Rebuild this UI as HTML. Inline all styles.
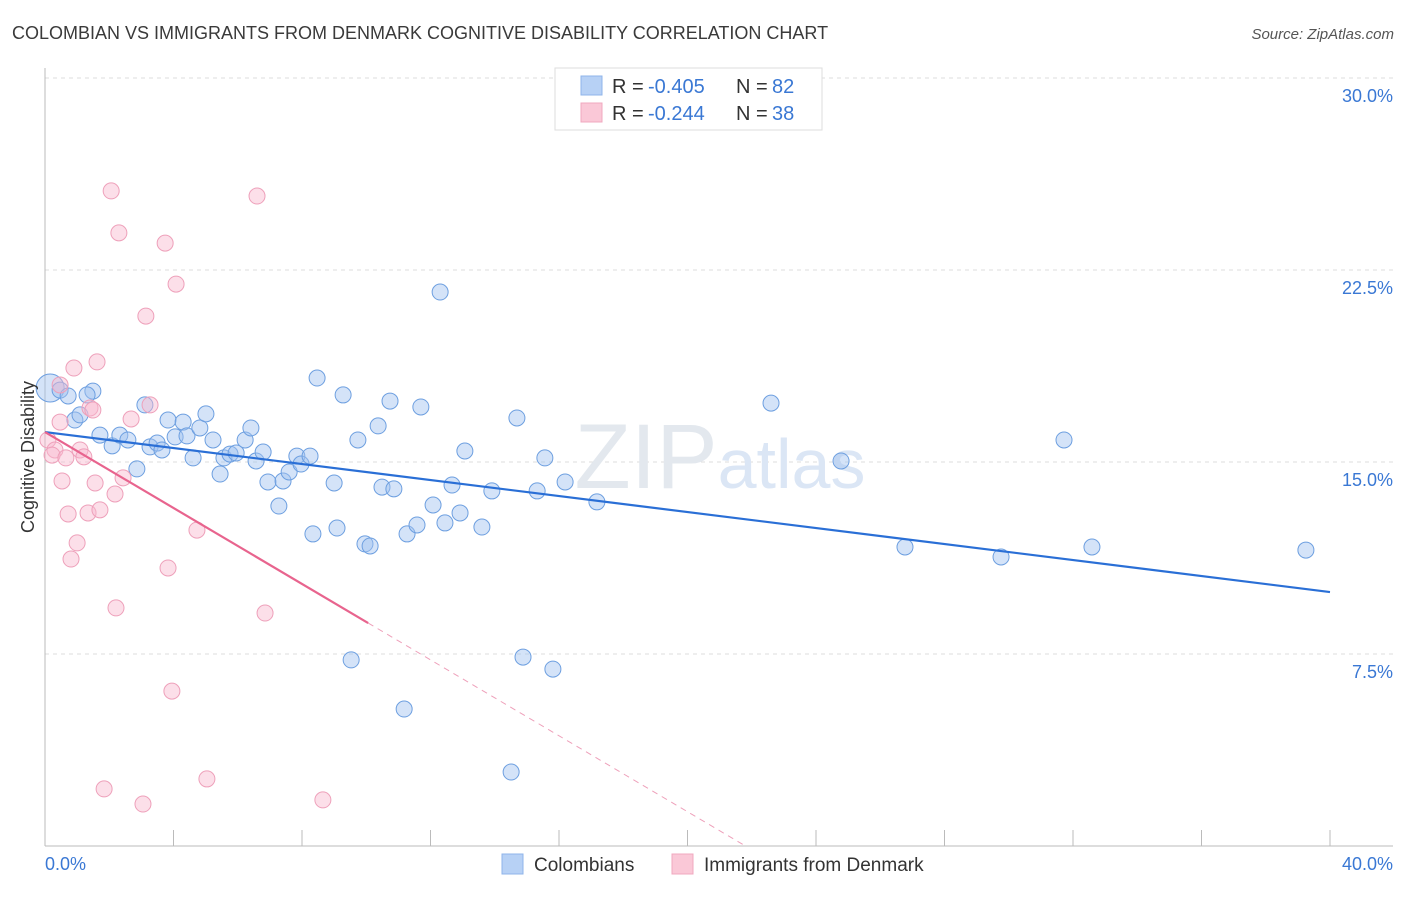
<!DOCTYPE html>
<html><head><meta charset="utf-8"><style>
body{margin:0;background:#fff;font-family:"Liberation Sans",sans-serif}
svg text{font-family:"Liberation Sans",sans-serif}
</style></head><body>
<svg id="chart" width="1406" height="892" xmlns="http://www.w3.org/2000/svg">
<text x="12" y="39" font-size="18" fill="#3a3a3a">COLOMBIAN VS IMMIGRANTS FROM DENMARK COGNITIVE DISABILITY CORRELATION CHART</text>
<text x="1394" y="39" font-size="15" fill="#555" text-anchor="end" font-style="italic">Source: ZipAtlas.com</text>
<g id="grid"></g>
<text x="720" y="488" font-size="92" fill="#e3e8ee" text-anchor="middle" font-family="Liberation Serif">ZIP<tspan fill="#dbe6f5" font-family="Liberation Sans" font-size="70">atlas</tspan></text>
<g id="marks"></g>
<text transform="translate(34,457) rotate(-90)" font-size="18" fill="#333" text-anchor="middle">Cognitive Disability</text>
<g>
<rect x="555" y="68" width="267" height="62" fill="#fff" stroke="#ddd"/>
<rect x="581" y="76" width="21" height="19" fill="#b7d1f5" stroke="#8fb4ea"/>
<rect x="581" y="103" width="21" height="19" fill="#fac8d7" stroke="#f0a8bf"/>
<text x="612" y="93" font-size="20" fill="#333">R =</text>
<text x="648" y="93" font-size="20" fill="#3a78d4">-0.405</text>
<text x="736" y="93" font-size="20" fill="#333">N =</text>
<text x="772" y="93" font-size="20" fill="#3a78d4">82</text>
<text x="612" y="120" font-size="20" fill="#333">R =</text>
<text x="648" y="120" font-size="20" fill="#3a78d4">-0.244</text>
<text x="736" y="120" font-size="20" fill="#333">N =</text>
<text x="772" y="120" font-size="20" fill="#3a78d4">38</text>
</g>
<g>
<rect x="502" y="854" width="21" height="20" fill="#b7d1f5" stroke="#8fb4ea"/>
<text x="534" y="871" font-size="19" fill="#333">Colombians</text>
<rect x="672" y="854" width="21" height="20" fill="#fac8d7" stroke="#f0a8bf"/>
<text x="704" y="871" font-size="19" fill="#333">Immigrants from Denmark</text>
</g>
</svg>
<script>
const yTicks=[7.5,15,22.5,30];
const yTickLabels=["7.5%","15.0%","22.5%","30.0%"];
const xTicks=[0,4,8,12,16,20,24,28,32,36,40];
const blueX=[0.16,0.47,0.72,1.49,1.31,0.93,1.09,1.71,2.09,2.33,2.58,2.86,3.11,3.27,3.49,3.64,3.83,4.05,4.30,4.42,4.61,4.82,5.01,5.23,5.45,5.57,5.76,5.95,6.23,6.41,6.57,6.79,6.94,7.28,7.41,7.60,7.84,7.97,8.25,8.34,8.47,9.00,9.09,9.28,9.53,9.74,9.96,10.12,10.37,10.49,10.74,10.86,11.18,11.27,11.58,11.70,12.08,12.30,12.45,12.67,12.92,13.07,13.60,13.91,14.51,14.69,14.88,15.32,15.56,15.81,16.19,17.18,22.60,24.78,26.77,29.76,31.72,32.59,39.25];
const blueY=[17.89,17.81,17.58,17.77,17.62,16.64,16.84,16.05,15.63,16.05,15.86,14.73,17.23,15.59,15.74,15.47,16.64,15.98,16.56,16.02,15.16,16.33,16.88,15.86,14.53,15.16,15.31,15.35,15.86,16.33,15.04,15.39,14.22,13.28,14.26,14.61,15.23,14.92,15.23,12.19,18.28,14.18,12.42,17.62,7.27,15.86,11.80,11.72,16.41,14.02,17.38,13.95,5.35,12.19,12.54,17.15,13.32,21.64,12.62,14.10,13.01,15.43,12.46,13.87,2.89,16.72,7.38,13.87,15.16,6.91,14.22,13.44,17.30,15.04,11.68,11.29,15.86,11.68,11.56];
const pinkX=[0.09,0.31,0.47,0.53,0.72,0.81,0.90,1.00,1.09,1.21,1.34,1.40,1.49,1.56,1.62,1.71,2.06,2.18,2.21,2.30,2.43,2.68,3.05,3.27,3.14,3.74,3.83,3.95,4.08,4.73,5.04,1.84,6.60,6.85,8.65,0.47,0.22,0.65];
const pinkY=[15.86,15.47,16.56,14.26,12.97,11.21,18.67,11.84,15.47,15.20,13.01,17.11,17.03,14.18,18.91,13.13,25.59,13.75,9.30,23.95,14.38,16.68,1.64,17.23,20.70,23.55,10.86,6.05,21.95,12.34,2.62,2.23,25.39,9.10,1.80,18.01,15.27,15.16];
const blueTrend=[16.17,9.92];
const pinkTrend=[16.17,8.71];
const pinkSolidEnd=10.06;
const NS="http://www.w3.org/2000/svg";
const sx=v=>45+v*32.125, sy=v=>846-v*25.6;
function mk(t,a,p){const e=document.createElementNS(NS,t);for(const k in a)e.setAttribute(k,a[k]);p.appendChild(e);return e;}
const grid=document.getElementById('grid'), marks=document.getElementById('marks');
yTicks.forEach((t,i)=>{
 const l=mk('line',{x1:45,x2:1393,y1:sy(t),y2:sy(t),stroke:'#ddd','stroke-dasharray':'4,4'},grid);
 
 
 const tx=mk('text',{x:1393,y:sy(t)+24,'font-size':18,fill:'#3a78d4','text-anchor':'end'},grid);
 tx.textContent=yTickLabels[i];
 
 
});
mk('line',{x1:45,x2:45,y1:68,y2:846,stroke:'#bbb'},grid);
mk('line',{x1:45,x2:1393,y1:846,y2:846,stroke:'#bbb'},grid);
xTicks.forEach(t=>{const l=mk('line',{x1:sx(t),x2:sx(t),y1:830,y2:846,stroke:'#bbb'},grid);
 
 });
const x0=mk('text',{x:45,y:870,'font-size':18,fill:'#3a78d4'},grid);x0.textContent='0.0%';


const x1=mk('text',{x:1393,y:870,'font-size':18,fill:'#3a78d4','text-anchor':'end'},grid);x1.textContent='40.0%';


blueX.forEach((x,i)=>{const c=mk('circle',{cx:sx(x),cy:sy(blueY[i]),r:i==0?14:8,fill:'rgba(160,194,240,0.45)',stroke:'#6d9fe0','stroke-width':1},marks);
 
 });
pinkX.forEach((x,i)=>{const c=mk('circle',{cx:sx(x),cy:sy(pinkY[i]),r:8,fill:'rgba(248,184,206,0.45)',stroke:'#eea0ba','stroke-width':1},marks);
 
 });
const bt=mk('line',{x1:sx(0),y1:sy(blueTrend[0]),x2:sx(40),y2:sy(blueTrend[1]),stroke:'#2a6fd6','stroke-width':2.2},marks);


const slope=(pinkTrend[1]-pinkTrend[0])/pinkSolidEnd;
const pt=mk('line',{x1:sx(0),y1:sy(pinkTrend[0]),x2:sx(pinkSolidEnd),y2:sy(pinkTrend[1]),stroke:'#e8648e','stroke-width':2.2},marks);


const xEnd=-pinkTrend[0]/slope;
const pd=mk('line',{x1:sx(pinkSolidEnd),y1:sy(pinkTrend[1]),x2:sx(xEnd),y2:sy(0),stroke:'#eea0ba','stroke-width':1,'stroke-dasharray':'6,5'},marks);


</script>
</body></html>
